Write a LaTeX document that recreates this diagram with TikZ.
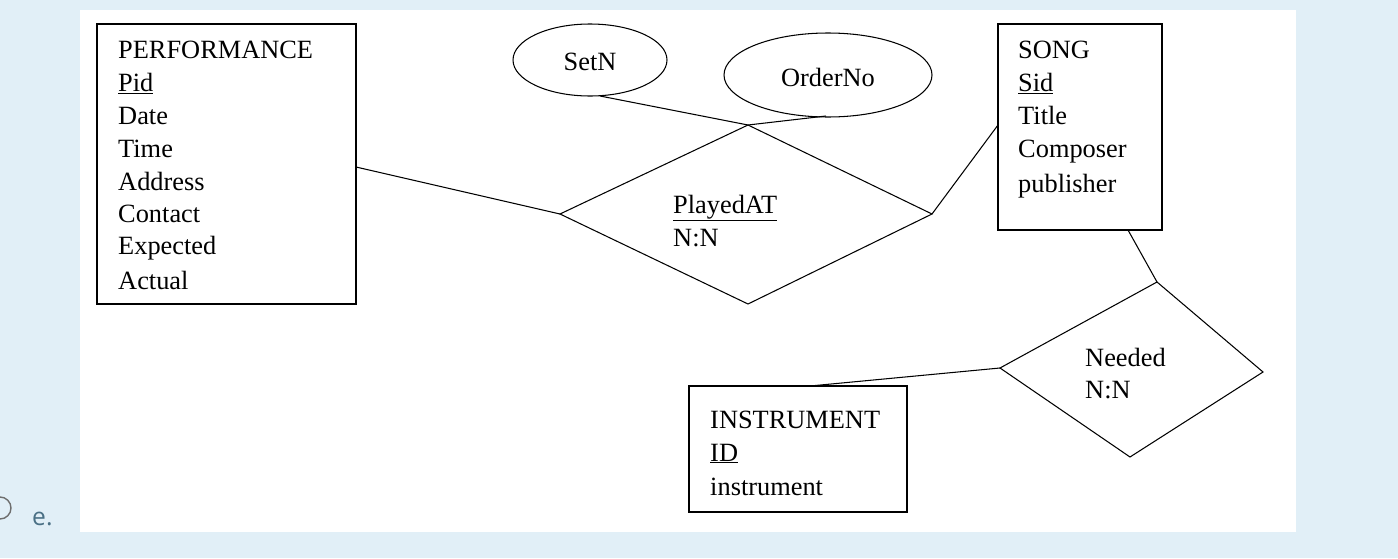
\documentclass[tikz,border=0pt]{standalone}
\usepackage{fontspec}
\setmainfont{Liberation Serif}
\newfontfamily\uifont{Open Sans}
\begin{document}
\begin{tikzpicture}[x=0.03cm,y=-0.03cm,
  lbl/.style={anchor=base west,inner sep=0pt,font=\fontsize{22.5}{26}\selectfont},
  ln/.style={draw=black,line width=0.9pt}]
\useasboundingbox (0,0) rectangle (1398,558);
\fill[fill={rgb,255:red,225;green,239;blue,247}] (0,0) rectangle (1398,558);
\fill[white] (80,10) rectangle (1296,532);
\draw[line width=1.2pt,draw={rgb,255:red,110;green,110;blue,110}] (0,508) circle (11);
\node[anchor=base west,inner sep=0pt,text={rgb,255:red,74;green,112;blue,133},font=\uifont\fontsize{21}{24}\selectfont] (eopt) at (32,525) {e.};
% boxes
\node[ln,draw,minimum width=259*0.03cm,minimum height=280*0.03cm,inner sep=0pt] (perf) at (226.5,164) {};
\node[ln,draw,minimum width=164*0.03cm,minimum height=206*0.03cm,inner sep=0pt] (song) at (1080,127) {};
\node[ln,draw,minimum width=218*0.03cm,minimum height=126*0.03cm,inner sep=0pt] (inst) at (798,449) {};
% texts
\node[lbl] (p1) at (118,58) {PERFORMANCE};
\node[lbl] (p2) at (118,91) {\underline{Pid}};
\node[lbl] (p3) at (118,124) {Date};
\node[lbl] (p4) at (118,157) {Time};
\node[lbl] (p5) at (118,190) {Address};
\node[lbl] (p6) at (118,222) {Contact};
\node[lbl] (p7) at (118,254) {Expected};
\node[lbl] (p8) at (118,289) {Actual};
\node[lbl] (s1) at (1018,58) {SONG};
\node[lbl] (s2) at (1018,91) {\underline{Sid}};
\node[lbl] (s3) at (1018,124) {Title};
\node[lbl] (s4) at (1018,157) {Composer};
\node[lbl] (s5) at (1018,192) {publisher};
\node[lbl] (i1) at (710,428) {INSTRUMENT};
\node[lbl] (i2) at (710,461) {\underline{ID}};
\node[lbl] (i3) at (710,495) {instrument};
% ellipses
\draw[ln] (590,60) ellipse (77 and 36);
\node[lbl,anchor=center] (setn) at (590,62) {SetN};
\draw[ln] (828,75) ellipse (104 and 42);
\node[lbl,anchor=center] (ord) at (828,77) {OrderNo};
% diamonds
\coordinate (dl) at (560,214); \coordinate (dt) at (748,125);
\coordinate (dr) at (932,214); \coordinate (db) at (748,304);
\draw[ln] (dl) -- (dt) -- (dr) -- (db) -- cycle;
\node[lbl] (pa) at (673,213) {\underline{PlayedAT}};
\node[lbl] (pn) at (673,246) {N:N};
\coordinate (nl) at (1000,368); \coordinate (nt) at (1157,282);
\coordinate (nr) at (1263,372); \coordinate (nb) at (1130,457);
\draw[ln] (nl) -- (nt) -- (nr) -- (nb) -- cycle;
\node[lbl] (nd) at (1085,366) {Needed};
\node[lbl] (nn) at (1085,398) {N:N};
% connectors
\coordinate (se) at (600,96); \coordinate (oe) at (826,116);
\coordinate (pr) at (356,167); \coordinate (sl) at (998,125);
\coordinate (sb) at (1128,230); \coordinate (it) at (810,386);
\draw[ln] (se) -- (dt) -- (oe);
\draw[ln] (pr) -- (dl);
\draw[ln] (dr) -- (sl);
\draw[ln] (sb) -- (nt);
\draw[ln] (nl) -- (it);
\end{tikzpicture}
\end{document}
